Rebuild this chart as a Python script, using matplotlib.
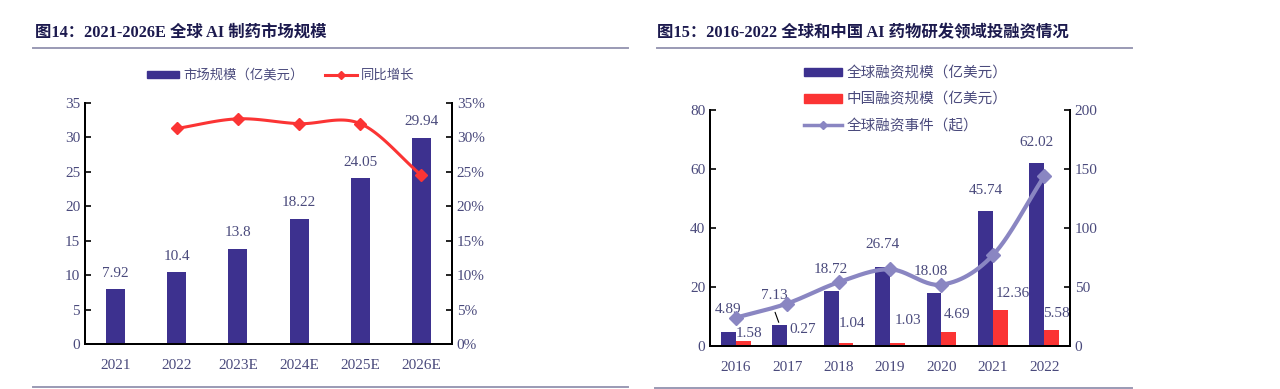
import numpy as np
import matplotlib
matplotlib.use("Agg")
import matplotlib.pyplot as plt
from matplotlib.lines import Line2D
from matplotlib.patches import Patch

# ---------------- data ----------------
left_years = ["2021", "2022", "2023E", "2024E", "2025E", "2026E"]
market_size = [7.92, 10.4, 13.8, 18.22, 24.05, 29.94]
growth_pct = [None, 31.3, 32.7, 32.0, 32.0, 24.5]

right_years = ["2016", "2017", "2018", "2019", "2020", "2021", "2022"]
global_funding = [4.89, 7.13, 18.72, 26.74, 18.08, 45.74, 62.02]
china_funding = [1.58, 0.27, 1.04, 1.03, 4.69, 12.36, 5.58]
global_events = [24, 36, 54, 65, 52, 77, 144]

# ---------------- style ----------------
BLUE = "#3d318f"
RED = "#fb3434"
LAV = "#8a86c2"
TXT = "#4a4a7c"
TITLE_C = "#1c1a4e"
SERIF = ["Liberation Serif", "Noto Sans CJK SC"]
SANS = ["Noto Sans CJK SC", "DejaVu Sans"]


def smooth(x, y, n=30):
    x = np.asarray(x, float)
    y = np.asarray(y, float)
    px = np.concatenate([[2 * x[0] - x[1]], x, [2 * x[-1] - x[-2]]])
    py = np.concatenate([[2 * y[0] - y[1]], y, [2 * y[-1] - y[-2]]])
    xs, ys = [], []
    t = np.linspace(0, 1, n)
    for i in range(1, len(px) - 2):
        p0, p1, p2, p3 = (np.array([px[j], py[j]]) for j in range(i - 1, i + 3))
        pts = 0.5 * ((2 * p1)[:, None] + (-p0 + p2)[:, None] * t
                     + (2 * p0 - 5 * p1 + 4 * p2 - p3)[:, None] * t ** 2
                     + (-p0 + 3 * p1 - 3 * p2 + p3)[:, None] * t ** 3)
        xs.append(pts[0]); ys.append(pts[1])
    return np.concatenate(xs), np.concatenate(ys)


fig = plt.figure(figsize=(12.8, 3.89), dpi=100)
W, H = 1280, 389


def fx(px):
    return px / W


def fy(py):
    return 1 - py / H


# titles and rules
fig.text(fx(35), fy(33), "图14：2021-2026E 全球 AI 制药市场规模", family=SERIF,
         fontweight="bold", fontsize=11.8, color=TITLE_C, va="center", ha="left")
fig.text(fx(657), fy(33), "图15：2016-2022 全球和中国 AI 药物研发领域投融资情况", family=SERIF,
         fontweight="bold", fontsize=11.8, color=TITLE_C, va="center", ha="left")
for (x0, x1, y) in [(33, 628, 48), (657, 1132, 48), (33, 628, 387), (655, 1132, 388)]:
    fig.add_artist(Line2D([fx(x0), fx(x1)], [fy(y), fy(y)], color="#9a9ab4", lw=1.4))


def style_axes(ax, ax2):
    for a in (ax, ax2):
        a.spines["top"].set_visible(False)
        for s in ("left", "right", "bottom"):
            a.spines[s].set_color("black")
            a.spines[s].set_linewidth(1.4)
        a.tick_params(axis="y", direction="in", length=4, width=1.2, colors="black",
                      labelcolor=TXT, labelsize=11)
        a.tick_params(axis="x", length=0, labelcolor=TXT, labelsize=11, pad=11)
        for lab in a.get_yticklabels() + a.get_xticklabels():
            lab.set_family(SERIF)


# ---------------- left chart ----------------
axL = fig.add_axes([fx(85), fy(344), fx(452) - fx(85), fy(103) - fy(344)])
xL = np.arange(len(left_years))
axL.bar(xL, market_size, width=0.31, color=BLUE, zorder=2)
axL.set_xlim(-0.5, len(left_years) - 0.5)
axL.set_ylim(0, 35)
axL.set_yticks(np.arange(0, 36, 5))
axL.set_xticks(xL)
axL.set_xticklabels(left_years)
for xi, v in zip(xL, market_size):
    axL.annotate(f"{v:g}", (xi, v), xytext=(0, 7), textcoords="offset points",
                 ha="center", va="bottom", fontsize=11, color=TXT, family=SERIF)
axL2 = axL.twinx()
gx = [xi for xi, g in zip(xL, growth_pct) if g is not None]
gy = [g for g in growth_pct if g is not None]
sx, sy = smooth(gx, gy)
axL2.plot(sx, sy, color=RED, lw=2.2, zorder=3)
axL2.plot(gx, gy, ls="none", marker="D", ms=6, color=RED, zorder=4)
axL2.set_ylim(0, 35)
axL2.set_yticks(np.arange(0, 36, 5))
axL2.set_yticklabels([f"{int(t)}%" for t in np.arange(0, 36, 5)])
style_axes(axL, axL2)

legL = fig.legend(handles=[Patch(color=BLUE), Line2D([], [], color=RED, lw=2.2, marker="D", ms=4)],
                  labels=["市场规模（亿美元）", "同比增长"], ncol=2, frameon=False,
                  loc="center left", bbox_to_anchor=(fx(147), fy(75)),
                  prop={"family": SANS, "size": 9.6}, handlelength=2.4, handleheight=0.4,
                  handletextpad=0.3, columnspacing=1.6, borderpad=0, borderaxespad=0)
for t in legL.get_texts():
    t.set_color(TXT)

# ---------------- right chart ----------------
axR = fig.add_axes([fx(710), fy(346), fx(1070) - fx(710), fy(110) - fy(346)])
xR = np.arange(len(right_years))
bw = 0.29
axR.bar(xR - bw / 2, global_funding, width=bw, color=BLUE, zorder=2)
axR.bar(xR + bw / 2, china_funding, width=bw, color=RED, zorder=2)
axR.set_xlim(-0.5, len(right_years) - 0.5)
axR.set_ylim(0, 80)
axR.set_yticks(np.arange(0, 81, 20))
axR.set_xticks(xR)
axR.set_xticklabels(right_years)

blue_off = [(0, 16), (-4, 21), (0, 15), (0, 16), (-2, 15.5), (0, 14.5), (0, 15)]
red_off = [(4.5, 6), (5.5, 11), (4, 14), (7.5, 16), (6, 13), (9, 11.7), (3, 11.7)]
for xi, v, off in zip(xR, global_funding, blue_off):
    axR.annotate(f"{v:.2f}", (xi - bw / 2, v), xytext=off, textcoords="offset points",
                 ha="center", va="center", fontsize=11, color=TXT, family=SERIF, zorder=6)
for xi, v, off in zip(xR, china_funding, red_off):
    axR.annotate(f"{v:.2f}", (xi + bw / 2, v), xytext=off, textcoords="offset points",
                 ha="center", va="center", fontsize=11, color=TXT, family=SERIF, zorder=6)
# leader line for 2017 label
axR.annotate("", (xR[1] - bw / 2, global_funding[1]), xytext=(-4, 11), textcoords="offset points",
             arrowprops=dict(arrowstyle="-", color="black", lw=0.8))

axR2 = axR.twinx()
sx, sy = smooth(xR, global_events)
axR2.plot(sx, sy, color=LAV, lw=3, zorder=3)
axR2.plot(xR, global_events, ls="none", marker="D", ms=7, color=LAV, zorder=4)
axR2.set_ylim(0, 200)
axR2.set_yticks(np.arange(0, 201, 50))
style_axes(axR, axR2)

legR = fig.legend(handles=[Patch(color=BLUE), Patch(color=RED),
                           Line2D([], [], color=LAV, lw=2.5, marker="D", ms=4)],
                  labels=["全球融资规模（亿美元）", "中国融资规模（亿美元）", "全球融资事件（起）"],
                  frameon=False, loc="upper left", bbox_to_anchor=(fx(804), fy(66)),
                  prop={"family": SANS, "size": 10.5}, handlelength=2.6, handleheight=0.55,
                  handletextpad=0.3, labelspacing=0.85, borderpad=0, borderaxespad=0)
for t in legR.get_texts():
    t.set_color(TXT)

fig.savefig("out.png", dpi=100, facecolor="white")
